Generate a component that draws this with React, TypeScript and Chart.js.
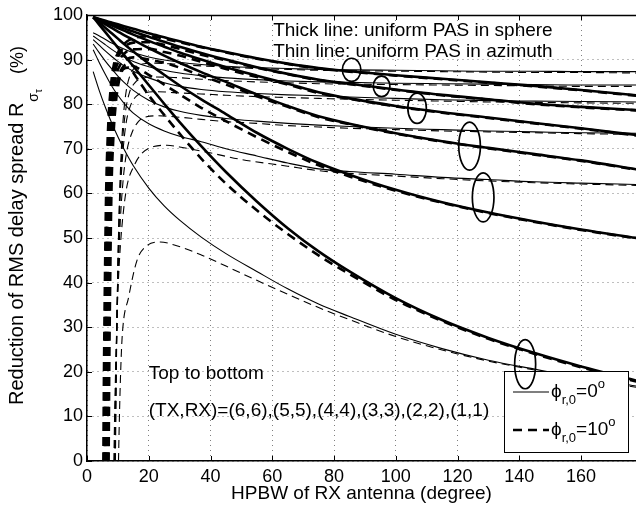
import React, { useEffect, useRef } from "react";
import { Chart, registerables } from "chart.js";

Chart.register(...registerables);

const FONT = "'Liberation Sans', Arial, Helvetica, sans-serif";

const X_MAX = 177.8;
const Y_MAX = 100;
const X_TICKS = [0, 20, 40, 60, 80, 100, 120, 140, 160];
const Y_TICKS = [0, 10, 20, 30, 40, 50, 60, 70, 80, 90, 100];
const X_TITLE = "HPBW of RX antenna (degree)";
const Y_TITLE_MAIN = "Reduction of RMS delay spread R";
const Y_TITLE_SUB = "σ";
const Y_TITLE_SUBSUB = "τ";
const Y_TITLE_UNIT = "(%)";

// common HPBW grid for the phi_r0 = 0 deg curves
const HPBW = [2, 4, 6, 8, 10, 12, 15, 20, 25, 30, 37, 45, 55, 65, 75, 85, 100, 115, 130, 145, 160, 178];

// thick solid: uniform PAS in sphere, phi_r0 = 0
const SPHERE_66 = [99.5, 99.1, 98.7, 98.3, 97.9, 97.5, 96.9, 95.9, 95.0, 94.1, 92.9, 91.7, 90.3, 89.1, 88.1, 87.4, 86.5, 85.7, 84.9, 84.1, 83.2, 82.0];
const SPHERE_55 = [99.5, 99.0, 98.5, 98.0, 97.5, 97.0, 96.3, 95.1, 94.0, 92.9, 91.5, 90.0, 88.3, 86.8, 85.5, 84.6, 83.3, 82.1, 81.1, 80.1, 79.4, 78.7];
const SPHERE_44 = [99.5, 98.9, 98.3, 97.7, 97.1, 96.5, 95.6, 94.2, 92.9, 91.6, 90.0, 88.3, 86.4, 84.6, 82.7, 81.3, 79.6, 78.2, 77.0, 75.8, 74.6, 73.1];
const SPHERE_33 = [99.5, 98.7, 97.9, 97.1, 96.3, 95.5, 94.4, 92.6, 90.9, 89.3, 87.2, 85.0, 82.2, 79.6, 77.3, 75.6, 73.5, 71.7, 70.2, 68.8, 67.4, 65.4];
const SPHERE_22 = [99.5, 98.3, 97.1, 95.9, 94.7, 93.5, 91.8, 89.1, 86.6, 84.2, 81.1, 77.8, 73.6, 70.0, 66.8, 64.2, 60.8, 58.0, 55.7, 53.7, 51.9, 50.0];
const SPHERE_11 = [99.5, 97.8, 96.1, 94.4, 92.7, 91.0, 88.5, 84.3, 80.1, 76.0, 70.6, 64.8, 58.2, 52.2, 47.0, 42.5, 36.5, 31.6, 27.6, 24.2, 21.2, 18.0];

// thin solid: uniform PAS in azimuth, phi_r0 = 0
const AZIM_66 = [96.0, 95.3, 94.5, 93.7, 93.0, 92.4, 91.6, 90.6, 89.9, 89.4, 88.9, 88.5, 88.2, 88.0, 87.8, 87.7, 87.6, 87.5, 87.4, 87.4, 87.3, 87.3];
const AZIM_55 = [95.3, 94.3, 93.3, 92.3, 91.4, 90.6, 89.6, 88.4, 87.6, 87.0, 86.4, 85.9, 85.5, 85.2, 85.0, 84.9, 84.7, 84.6, 84.5, 84.4, 84.3, 84.3];
const AZIM_44 = [94.5, 93.2, 91.9, 90.7, 89.6, 88.6, 87.4, 85.9, 84.8, 84.0, 83.3, 82.8, 82.4, 82.1, 81.9, 81.6, 81.3, 81.0, 80.8, 80.7, 80.6, 80.5];
const AZIM_33 = [93.5, 91.5, 89.6, 87.9, 86.3, 84.9, 83.1, 80.9, 79.4, 78.4, 77.5, 76.8, 76.2, 75.7, 75.3, 75.0, 74.6, 74.3, 74.0, 73.8, 73.6, 73.5];
const AZIM_22 = [92.2, 89.3, 86.6, 84.1, 82.0, 80.2, 78.0, 75.6, 74.0, 72.8, 71.6, 70.0, 68.4, 66.8, 65.5, 64.9, 64.3, 63.6, 63.1, 62.6, 62.3, 62.0];
const AZIM_11 = [87.3, 83.0, 79.2, 75.8, 72.7, 69.9, 66.2, 61.2, 57.2, 54.0, 50.2, 46.5, 42.5, 38.6, 35.2, 32.4, 28.4, 25.2, 22.6, 20.6, 18.7, 16.8];

// thick dashed: uniform PAS in sphere, phi_r0 = 10
const SPHERE10_66_X = [5.3, 5.5, 5.8, 6.2, 6.8, 7.6, 8.6, 10, 12, 15, 20, 25, 30, 37, 45, 55, 65, 75, 85, 100, 115, 130, 145, 160, 178];
const SPHERE10_66_Y = [0, 20, 40, 60, 74, 83, 88.5, 91.5, 93.5, 94.8, 95.2, 94.7, 93.9, 92.8, 91.6, 90.2, 89.0, 88.0, 87.3, 86.4, 85.6, 84.8, 84.0, 83.1, 81.9];
const SPHERE10_55_X = [5.6, 5.8, 6.1, 6.5, 7.1, 7.9, 8.9, 10.3, 12, 15, 20, 25, 30, 37, 45, 55, 65, 75, 85, 100, 115, 130, 145, 160, 178];
const SPHERE10_55_Y = [0, 20, 40, 60, 74, 83, 88, 91, 92.8, 93.8, 93.9, 93.3, 92.4, 91.1, 89.8, 88.2, 86.7, 85.4, 84.5, 83.2, 82.0, 81.0, 80.0, 79.3, 78.6];
const SPHERE10_44_X = [5.9, 6.1, 6.4, 6.8, 7.4, 8.2, 9.2, 10.6, 12.3, 15, 20, 25, 30, 37, 45, 55, 65, 75, 85, 100, 115, 130, 145, 160, 178];
const SPHERE10_44_Y = [0, 20, 40, 60, 74, 82.5, 87.5, 90, 91.5, 92.3, 92.4, 91.7, 90.9, 89.5, 87.9, 86.1, 84.4, 82.5, 81.2, 79.5, 78.1, 76.9, 75.7, 74.5, 73.0];
const SPHERE10_33_X = [6.2, 6.4, 6.7, 7.1, 7.7, 8.5, 9.5, 10.9, 12.6, 15, 20, 25, 30, 37, 45, 55, 65, 75, 85, 100, 115, 130, 145, 160, 178];
const SPHERE10_33_Y = [0, 20, 40, 60, 73.5, 82, 86.5, 89, 90, 90.5, 90.0, 89.3, 88.2, 86.4, 84.4, 81.8, 79.4, 77.1, 75.5, 73.4, 71.6, 70.1, 68.7, 67.3, 65.3];
const SPHERE10_22_X = [6.6, 6.8, 7.1, 7.5, 8.1, 8.9, 9.9, 11.3, 13, 15, 20, 25, 30, 37, 45, 55, 65, 75, 85, 100, 115, 130, 145, 160, 178];
const SPHERE10_22_Y = [0, 20, 40, 60, 73, 81, 85.5, 88, 89, 88.6, 86.6, 84.4, 82.2, 79.2, 76.2, 72.6, 69.3, 66.3, 63.8, 60.6, 57.9, 55.6, 53.6, 51.8, 49.9];
const SPHERE10_11_X = [7.0, 7.2, 7.5, 7.9, 8.5, 9.3, 10.3, 11.7, 13.4, 16, 20, 25, 30, 37, 45, 55, 65, 75, 85, 100, 115, 130, 145, 160, 178];
const SPHERE10_11_Y = [0, 20, 40, 60, 72, 80, 85, 87.8, 88.2, 86.0, 82.0, 77.6, 73.4, 67.8, 62.2, 56.2, 50.9, 46.1, 41.9, 36.1, 31.4, 27.4, 24.0, 21.0, 17.8];

// thin dashed: uniform PAS in azimuth, phi_r0 = 10
const AZIM10_66_X = [9.2, 9.5, 9.9, 10.4, 11, 11.7, 12.6, 13.8, 15.5, 18, 22, 28, 37, 45, 55, 65, 75, 85, 100, 115, 130, 145, 160, 178];
const AZIM10_66_Y = [0, 20, 40, 56, 68, 76.5, 82.5, 86.2, 88.2, 89.0, 89.2, 89.0, 88.6, 88.3, 88.0, 87.8, 87.6, 87.5, 87.4, 87.3, 87.2, 87.1, 87.1, 87.0];
const AZIM10_55_X = [9.1, 9.4, 9.8, 10.3, 10.9, 11.6, 12.5, 13.7, 15.5, 18, 22, 28, 37, 45, 55, 65, 75, 85, 100, 115, 130, 145, 160, 178];
const AZIM10_55_Y = [0, 18, 36, 52, 64, 72.5, 78.5, 82.5, 84.8, 85.8, 86.1, 86.0, 85.6, 85.3, 85.0, 84.8, 84.6, 84.5, 84.4, 84.3, 84.2, 84.1, 84.0, 84.0];
const AZIM10_44_X = [9.0, 9.3, 9.7, 10.2, 10.8, 11.6, 12.6, 14, 16, 19, 23, 28, 37, 45, 55, 65, 75, 85, 100, 115, 130, 145, 160, 178];
const AZIM10_44_Y = [0, 16, 32, 48, 60, 69, 75.5, 79.5, 81.8, 82.6, 82.8, 82.6, 82.3, 82.0, 81.7, 81.5, 81.3, 81.1, 80.9, 80.7, 80.5, 80.4, 80.3, 80.2];
const AZIM10_33_X = [8.9, 9.2, 9.6, 10.1, 10.8, 11.7, 12.9, 14.5, 16.5, 19.3, 23, 28, 37, 45, 55, 65, 75, 85, 100, 115, 130, 145, 160, 178];
const AZIM10_33_Y = [0, 14, 28, 42, 54, 63, 69.5, 73.5, 76, 77.2, 77.4, 77.2, 76.6, 76.1, 75.7, 75.2, 74.9, 74.6, 74.3, 74.0, 73.8, 73.6, 73.4, 73.2];
const AZIM10_22_X = [8.7, 9.0, 9.4, 9.9, 10.6, 11.5, 12.9, 15.1, 17.8, 21.6, 25.9, 30, 39.8, 50, 65, 75, 85, 100, 115, 130, 145, 160, 178];
const AZIM10_22_Y = [0, 12, 24, 36, 46, 54, 61.5, 66, 69, 70.5, 70.8, 70.4, 69.1, 67.6, 66.1, 65.1, 64.5, 63.9, 63.3, 62.8, 62.4, 62.1, 61.8];
const AZIM10_11_X = [10.2, 10.5, 10.9, 11.4, 13.5, 16.2, 18.9, 23.7, 28, 37, 45, 55, 65, 75, 85, 100, 115, 130, 145, 160, 178];
const AZIM10_11_Y = [0, 10, 20, 28, 36.8, 45, 48, 49.1, 48.5, 46.2, 43.7, 40.5, 37.4, 34.4, 31.7, 27.9, 24.9, 22.4, 20.4, 18.5, 16.5];

// ellipse annotations (data units)
const ELLIPSE_X = [85.7, 95.4, 106.9, 123.9, 128.3, 141.9];
const ELLIPSE_Y = [87.7, 84.0, 79.1, 70.6, 59.1, 21.7];
const ELLIPSE_RX = [3.0, 2.7, 3.0, 3.5, 3.5, 3.4];
const ELLIPSE_RY = [2.6, 2.3, 3.4, 5.4, 5.5, 5.5];

// text annotations (data units, baseline)
const NOTE_TEXT = [
  "Thick line: uniform PAS in sphere",
  "Thin line: uniform PAS in azimuth",
  "Top to bottom",
  "(TX,RX)=(6,6),(5,5),(4,4),(3,3),(2,2),(1,1)",
];
const NOTE_X = [60.3, 60.3, 20.0, 20.0];
const NOTE_Y = [95.4, 90.5, 18.4, 10.1];

// legend: phi_r,0 values
const LEGEND_VALUES = ["0", "10"];
const LEGEND_DASHED = [false, true];

type Curve = { x: number[]; y: number[]; thick: boolean; dashed: boolean };

const CURVES: Curve[] = [
  { x: HPBW, y: SPHERE_66, thick: true, dashed: false },
  { x: HPBW, y: SPHERE_55, thick: true, dashed: false },
  { x: HPBW, y: SPHERE_44, thick: true, dashed: false },
  { x: HPBW, y: SPHERE_33, thick: true, dashed: false },
  { x: HPBW, y: SPHERE_22, thick: true, dashed: false },
  { x: HPBW, y: SPHERE_11, thick: true, dashed: false },
  { x: HPBW, y: AZIM_66, thick: false, dashed: false },
  { x: HPBW, y: AZIM_55, thick: false, dashed: false },
  { x: HPBW, y: AZIM_44, thick: false, dashed: false },
  { x: HPBW, y: AZIM_33, thick: false, dashed: false },
  { x: HPBW, y: AZIM_22, thick: false, dashed: false },
  { x: HPBW, y: AZIM_11, thick: false, dashed: false },
  { x: SPHERE10_66_X, y: SPHERE10_66_Y, thick: true, dashed: true },
  { x: SPHERE10_55_X, y: SPHERE10_55_Y, thick: true, dashed: true },
  { x: SPHERE10_44_X, y: SPHERE10_44_Y, thick: true, dashed: true },
  { x: SPHERE10_33_X, y: SPHERE10_33_Y, thick: true, dashed: true },
  { x: SPHERE10_22_X, y: SPHERE10_22_Y, thick: true, dashed: true },
  { x: SPHERE10_11_X, y: SPHERE10_11_Y, thick: true, dashed: true },
  { x: AZIM10_66_X, y: AZIM10_66_Y, thick: false, dashed: true },
  { x: AZIM10_55_X, y: AZIM10_55_Y, thick: false, dashed: true },
  { x: AZIM10_44_X, y: AZIM10_44_Y, thick: false, dashed: true },
  { x: AZIM10_33_X, y: AZIM10_33_Y, thick: false, dashed: true },
  { x: AZIM10_22_X, y: AZIM10_22_Y, thick: false, dashed: true },
  { x: AZIM10_11_X, y: AZIM10_11_Y, thick: false, dashed: true },
];

const THICK_W = 2.6;
const THIN_W = 1.1;
const THICK_DASH = [9, 6];
const THIN_DASH = [8, 5];

function drawRich(
  ctx: CanvasRenderingContext2D,
  x: number,
  y: number,
  parts: [string, number, number][]
) {
  let cx = x;
  for (const [t, size, dy] of parts) {
    ctx.font = `${size}px ${FONT}`;
    ctx.fillText(t, cx, y + dy);
    cx += ctx.measureText(t).width;
  }
  return cx;
}

const decorations = {
  id: "decorations",
  afterDraw(chart: any) {
    const { ctx, chartArea: ca, scales } = chart;
    const xs = scales.x;
    const ys = scales.y;
    ctx.save();
    ctx.strokeStyle = "#000";
    ctx.fillStyle = "#000";

    // top frame line
    ctx.lineWidth = 1.5;
    ctx.beginPath();
    ctx.moveTo(ca.left, ca.top + 0.5);
    ctx.lineTo(ca.right, ca.top + 0.5);
    ctx.stroke();

    // inward ticks
    ctx.lineWidth = 1;
    ctx.beginPath();
    for (const v of X_TICKS) {
      const px = Math.round(xs.getPixelForValue(v)) + 0.5;
      ctx.moveTo(px, ca.bottom);
      ctx.lineTo(px, ca.bottom - 5);
      ctx.moveTo(px, ca.top);
      ctx.lineTo(px, ca.top + 5);
    }
    for (const v of Y_TICKS) {
      const py = Math.round(ys.getPixelForValue(v)) + 0.5;
      ctx.moveTo(ca.left, py);
      ctx.lineTo(ca.left + 5, py);
    }
    ctx.stroke();

    // notes
    ctx.font = `19px ${FONT}`;
    ctx.textAlign = "left";
    ctx.textBaseline = "alphabetic";
    for (let i = 0; i < NOTE_TEXT.length; i++) {
      ctx.fillText(NOTE_TEXT[i], xs.getPixelForValue(NOTE_X[i]), ys.getPixelForValue(NOTE_Y[i]));
    }

    // legend box
    const bw = 124;
    const bh = 81;
    const bx = ca.right - 8 - bw;
    const by = ca.bottom - 9 - bh;
    ctx.fillStyle = "#fff";
    ctx.fillRect(bx, by, bw, bh);
    ctx.lineWidth = 1;
    ctx.strokeRect(bx + 0.5, by + 0.5, bw, bh);
    ctx.fillStyle = "#000";
    for (let i = 0; i < LEGEND_VALUES.length; i++) {
      const lineY = by + 21 + i * 38;
      const baseY = by + 26 + i * 38;
      ctx.beginPath();
      ctx.lineWidth = LEGEND_DASHED[i] ? THICK_W : THIN_W;
      ctx.setLineDash(LEGEND_DASHED[i] ? THICK_DASH : []);
      ctx.moveTo(bx + 9, lineY);
      ctx.lineTo(bx + 45, lineY);
      ctx.stroke();
      ctx.setLineDash([]);
      drawRich(ctx, bx + 47, baseY, [
        ["ϕ", 19, 0],
        ["r,0", 13, 7],
        ["=" + LEGEND_VALUES[i], 19, 0],
        ["o", 13, -9],
      ]);
    }

    // ellipses (drawn over the legend, as in the reference)
    ctx.lineWidth = 1.7;
    for (let i = 0; i < ELLIPSE_X.length; i++) {
      const cx = xs.getPixelForValue(ELLIPSE_X[i]);
      const cy = ys.getPixelForValue(ELLIPSE_Y[i]);
      const rx = xs.getPixelForValue(ELLIPSE_X[i] + ELLIPSE_RX[i]) - cx;
      const ry = cy - ys.getPixelForValue(ELLIPSE_Y[i] + ELLIPSE_RY[i]);
      ctx.beginPath();
      ctx.ellipse(cx, cy, rx, ry, 0, 0, Math.PI * 2);
      ctx.stroke();
    }

    // y-axis title (rotated, with sub/sub-subscript)
    ctx.save();
    ctx.translate(23, 405);
    ctx.rotate(-Math.PI / 2);
    ctx.textAlign = "left";
    ctx.textBaseline = "alphabetic";
    ctx.font = `20px ${FONT}`;
    ctx.fillText(Y_TITLE_MAIN, 0, 0);
    let pos = ctx.measureText(Y_TITLE_MAIN).width + 1;
    ctx.font = `14px ${FONT}`;
    ctx.fillText(Y_TITLE_SUB, pos, 15);
    pos += ctx.measureText(Y_TITLE_SUB).width;
    ctx.font = `10px ${FONT}`;
    ctx.fillText(Y_TITLE_SUBSUB, pos, 19);
    ctx.font = `18px ${FONT}`;
    ctx.fillText(Y_TITLE_UNIT, 331, 0);
    ctx.restore();

    ctx.restore();
  },
};

export default function App() {
  const ref = useRef<HTMLCanvasElement>(null);
  useEffect(() => {
    if (!ref.current) return;
    const datasets = CURVES.map((c) => ({
      data: c.x.map((x, i) => ({ x, y: c.y[i] })),
      borderColor: "#000",
      backgroundColor: "#000",
      borderWidth: c.thick ? THICK_W : THIN_W,
      borderDash: c.dashed ? (c.thick ? THICK_DASH : THIN_DASH) : [],
      pointRadius: 0,
      pointHoverRadius: 0,
      cubicInterpolationMode: "monotone" as const,
      fill: false,
    }));
    const chart = new Chart(ref.current, {
      type: "line",
      data: { datasets },
      options: {
        animation: false,
        responsive: false,
        devicePixelRatio: 1,
        events: [],
        layout: { padding: { top: 15, left: 0, right: 0, bottom: 0 } },
        plugins: { legend: { display: false }, tooltip: { enabled: false } },
        scales: {
          x: {
            type: "linear",
            min: 0,
            max: X_MAX,
            afterBuildTicks: (s: any) => {
              s.ticks = X_TICKS.map((v) => ({ value: v }));
            },
            afterFit: (s: any) => {
              s.height = 48;
            },
            grid: { color: "rgba(0,0,0,0.5)", lineWidth: 1, drawTicks: false },
            border: { display: true, color: "#000", width: 1.5, dash: [1, 4] },
            ticks: { color: "#000", font: { family: FONT, size: 18 }, padding: 5, maxRotation: 0 },
            title: {
              display: true,
              text: X_TITLE,
              color: "#000",
              font: { family: FONT, size: 19 },
              padding: { top: 0, bottom: 3.6 },
            },
          },
          y: {
            type: "linear",
            min: 0,
            max: Y_MAX,
            afterBuildTicks: (s: any) => {
              s.ticks = Y_TICKS.map((v) => ({ value: v }));
            },
            afterFit: (s: any) => {
              s.width = 87;
            },
            grid: { color: "rgba(0,0,0,0.5)", lineWidth: 1, drawTicks: false },
            border: { display: true, color: "#000", width: 1.5, dash: [1, 4] },
            ticks: { color: "#000", font: { family: FONT, size: 18 }, padding: 4 },
          },
        },
      },
      plugins: [decorations],
    });
    return () => chart.destroy();
  }, []);
  return (
    <div style={{ position: "fixed", left: 0, top: 0, width: 636, height: 509, background: "#fff" }}>
      <canvas ref={ref} width={636} height={509} style={{ display: "block", width: 636, height: 509 }} />
    </div>
  );
}
